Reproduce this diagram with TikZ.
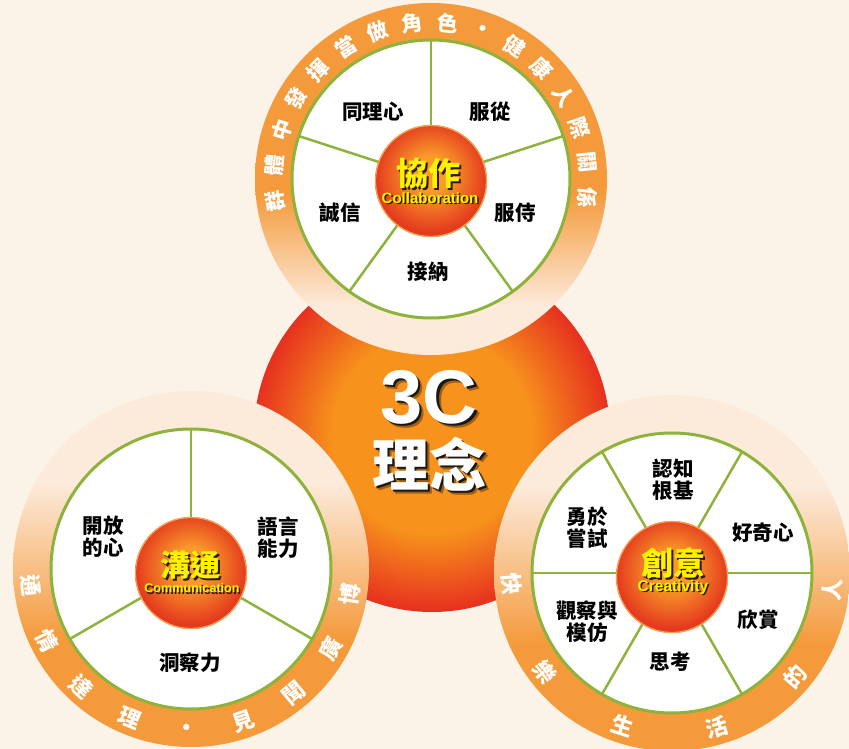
\documentclass[tikz,border=0pt]{standalone}
\usepackage{fontspec}
\newfontfamily\cjk{Noto Sans CJK TC}
\newfontfamily\lsans{Liberation Sans}
\definecolor{bg}{HTML}{FBF2E8}
\definecolor{ringor}{HTML}{F49A3B}
\definecolor{ringpale}{HTML}{FCEADA}
\definecolor{bigor}{HTML}{F7921C}
\definecolor{bigred}{HTML}{E6301F}
\definecolor{diskor}{HTML}{F99A2A}
\definecolor{diskred}{HTML}{E43A1E}
\definecolor{diskrim}{HTML}{F6A24E}
\definecolor{spokegreen}{HTML}{8DB33C}
\definecolor{ytext}{HTML}{FFF100}
\definecolor{shadowc}{HTML}{2A1A00}
\pgfdeclareverticalshading{ringdown}{100bp}{color(0bp)=(ringpale); color(32bp)=(ringpale); color(48bp)=(ringor); color(100bp)=(ringor)}
\pgfdeclareverticalshading{ringup}{100bp}{color(0bp)=(ringor); color(40bp)=(ringor); color(62bp)=(ringpale); color(100bp)=(ringpale)}
\pgfdeclareradialshading{bigshade}{\pgfpoint{0bp}{0bp}}{color(0bp)=(bigor); color(14bp)=(bigor); color(25bp)=(bigred); color(50bp)=(bigred)}
\pgfdeclareradialshading{diskshade}{\pgfpoint{0bp}{4bp}}{color(0bp)=(diskor); color(8bp)=(diskor); color(25bp)=(diskred); color(50bp)=(diskred)}
\begin{document}
\begin{tikzpicture}[x=1pt,y=1pt,
  seg/.style={font=\cjk\bfseries\fontsize{20.5}{22}\selectfont, align=center, text=black, inner sep=0pt},
  ringch/.style={font=\cjk\bfseries\fontsize{21}{21}\selectfont, text=white, inner sep=0pt},
  spoke/.style={draw=spokegreen, line width=2.5pt},
  rimline/.style={draw=spokegreen, line width=3pt},
  whitedisk/.style={fill=white},
  hubzh/.style={font=\cjk\bfseries\fontsize{32}{32}\selectfont, inner sep=0pt},
  huben/.style={font=\lsans\bfseries, inner sep=0pt},
  bigtxt/.style={text=white, inner sep=0pt}]
\useasboundingbox (0,0) rectangle (849,-749);
\fill[bg] (0,0) rectangle (849,-749);
% centres
\coordinate (C) at (432,-434);
\coordinate (T) at (431,-179);
\coordinate (L) at (191,-569);
\coordinate (R) at (672,-573);
\coordinate (Th) at (431,-181);
\coordinate (Lh) at (191,-573);
\coordinate (Rh) at (672,-577);
% big disk
\shade[shading=bigshade] (C) circle (178);
\node[bigtxt, text=black, opacity=0.35, font=\lsans\bfseries\fontsize{76}{76}\selectfont] (s3c) at (433.5,-401.5) {3C};
\node[bigtxt, text=black!90, font=\lsans\bfseries\fontsize{76}{76}\selectfont] (s3c2) at (431.5,-399.5) {3C};
\node[bigtxt, font=\lsans\bfseries\fontsize{76}{76}\selectfont] (t3c) at (429,-397) {3C};
\node[bigtxt, text=black, opacity=0.35, font=\cjk\bfseries\fontsize{57}{57}\selectfont] (slinian) at (433.5,-468.5) {理念};
\node[bigtxt, text=black!90, font=\cjk\bfseries\fontsize{57}{57}\selectfont] (slinian2) at (431.5,-466.5) {理念};
\node[bigtxt, font=\cjk\bfseries\fontsize{57}{57}\selectfont] (linian) at (429,-464) {理念};

% ---------- top circle ----------
\shade[shading=ringdown] (T) circle (176);
\fill[whitedisk] (T) circle (139);
\foreach \a in {90,18,-54,-126,162} \draw[spoke] (T) -- ++(\a:139);
\draw[rimline] (T) circle (139);
\foreach \ch [count=\i from 0] in {群,體,中,發,揮,當,做,角,色,·,健,康,人,際,關,係} {
  \pgfmathsetmacro\ang{188-13*\i}
  \node[ringch, rotate=\ang-90] (tr\i) at ([shift={(\ang:157)}]T) {\ch};
}
\node[seg] (t1) at (373,-112) {同理心};
\node[seg] (t2) at (490,-112) {服從};
\node[seg] (t3) at (340,-213) {誠信};
\node[seg] (t4) at (515,-213) {服侍};
\node[seg] (t5) at (428,-272) {接納};
\shade[shading=diskshade] (Th) circle (56);
\draw[diskrim, line width=1.2pt] (Th) circle (55.5);
\node[hubzh, text=shadowc] (tzs) at (430,-175) {協作};
\node[hubzh, text=ytext] (tz) at (428,-173) {協作};
\node[huben, text=shadowc, font=\lsans\bfseries\fontsize{15}{15}\selectfont] (tes) at (431.5,-199.5) {Collaboration};
\node[huben, text=ytext, font=\lsans\bfseries\fontsize{15}{15}\selectfont] (te) at (430,-198) {Collaboration};

% ---------- bottom-left circle ----------
\shade[shading=ringup] (L) circle (178);
\fill[whitedisk] (L) circle (140);
\foreach \a in {90,210,330} \draw[spoke] (L) -- ++(\a:140);
\draw[rimline] (L) circle (140);
\foreach \ch [count=\i from 0] in {通,情,達,理,·,見,聞,廣,博} {
  \pgfmathsetmacro\ang{186+20.6*\i}
  \node[ringch, font=\cjk\bfseries\fontsize{22}{22}\selectfont, rotate=\ang+90] (lr\i) at ([shift={(\ang:161)}]L) {\ch};
}
\node[seg] (l1) at (103,-537) {開放\\的心};
\node[seg] (l2) at (278,-538) {語言\\能力};
\node[seg] (l3) at (190,-663) {洞察力};
\shade[shading=diskshade] (Lh) circle (56);
\draw[diskrim, line width=1.2pt] (Lh) circle (55.5);
\node[hubzh, text=shadowc, font=\cjk\bfseries\fontsize{30}{30}\selectfont] (lzs) at (192,-567) {溝通};
\node[hubzh, text=ytext, font=\cjk\bfseries\fontsize{30}{30}\selectfont] (lz) at (190,-565) {溝通};
\node[huben, text=shadowc, font=\lsans\bfseries\fontsize{12.6}{12.6}\selectfont] (les) at (193.5,-589.5) {Communication};
\node[huben, text=ytext, font=\lsans\bfseries\fontsize{12.6}{12.6}\selectfont] (le) at (192,-588) {Communication};

% ---------- bottom-right circle ----------
\shade[shading=ringup] (R) circle (178);
\fill[whitedisk] (R) circle (140);
\foreach \a in {0,60,120,180,240,300} \draw[spoke] (R) -- ++(\a:140);
\draw[rimline] (R) circle (140);
\foreach \ch [count=\i from 0] in {快,樂,生,活,的,人} {
  \pgfmathsetmacro\ang{184+34*\i}
  \node[ringch, font=\cjk\bfseries\fontsize{22}{22}\selectfont, rotate=\ang+90] (rr\i) at ([shift={(\ang:161)}]R) {\ch};
}
\node[seg] (r1) at (673,-480) {認知\\根基};
\node[seg] (r2) at (763,-533) {好奇心};
\node[seg] (r3) at (587,-528) {勇於\\嘗試};
\node[seg] (r4) at (758,-620) {欣賞};
\node[seg] (r5) at (587,-622) {觀察與\\模仿};
\node[seg] (r6) at (670,-662) {思考};
\shade[shading=diskshade] (Rh) circle (56);
\draw[diskrim, line width=1.2pt] (Rh) circle (55.5);
\node[hubzh, text=shadowc] (rzs) at (675,-565) {創意};
\node[hubzh, text=ytext] (rz) at (673,-563) {創意};
\node[huben, text=shadowc, font=\lsans\bfseries\fontsize{15.5}{15.5}\selectfont] (res) at (674.5,-588.5) {Creativity};
\node[huben, text=ytext, font=\lsans\bfseries\fontsize{15.5}{15.5}\selectfont] (re) at (673,-587) {Creativity};
\end{tikzpicture}
\end{document}
